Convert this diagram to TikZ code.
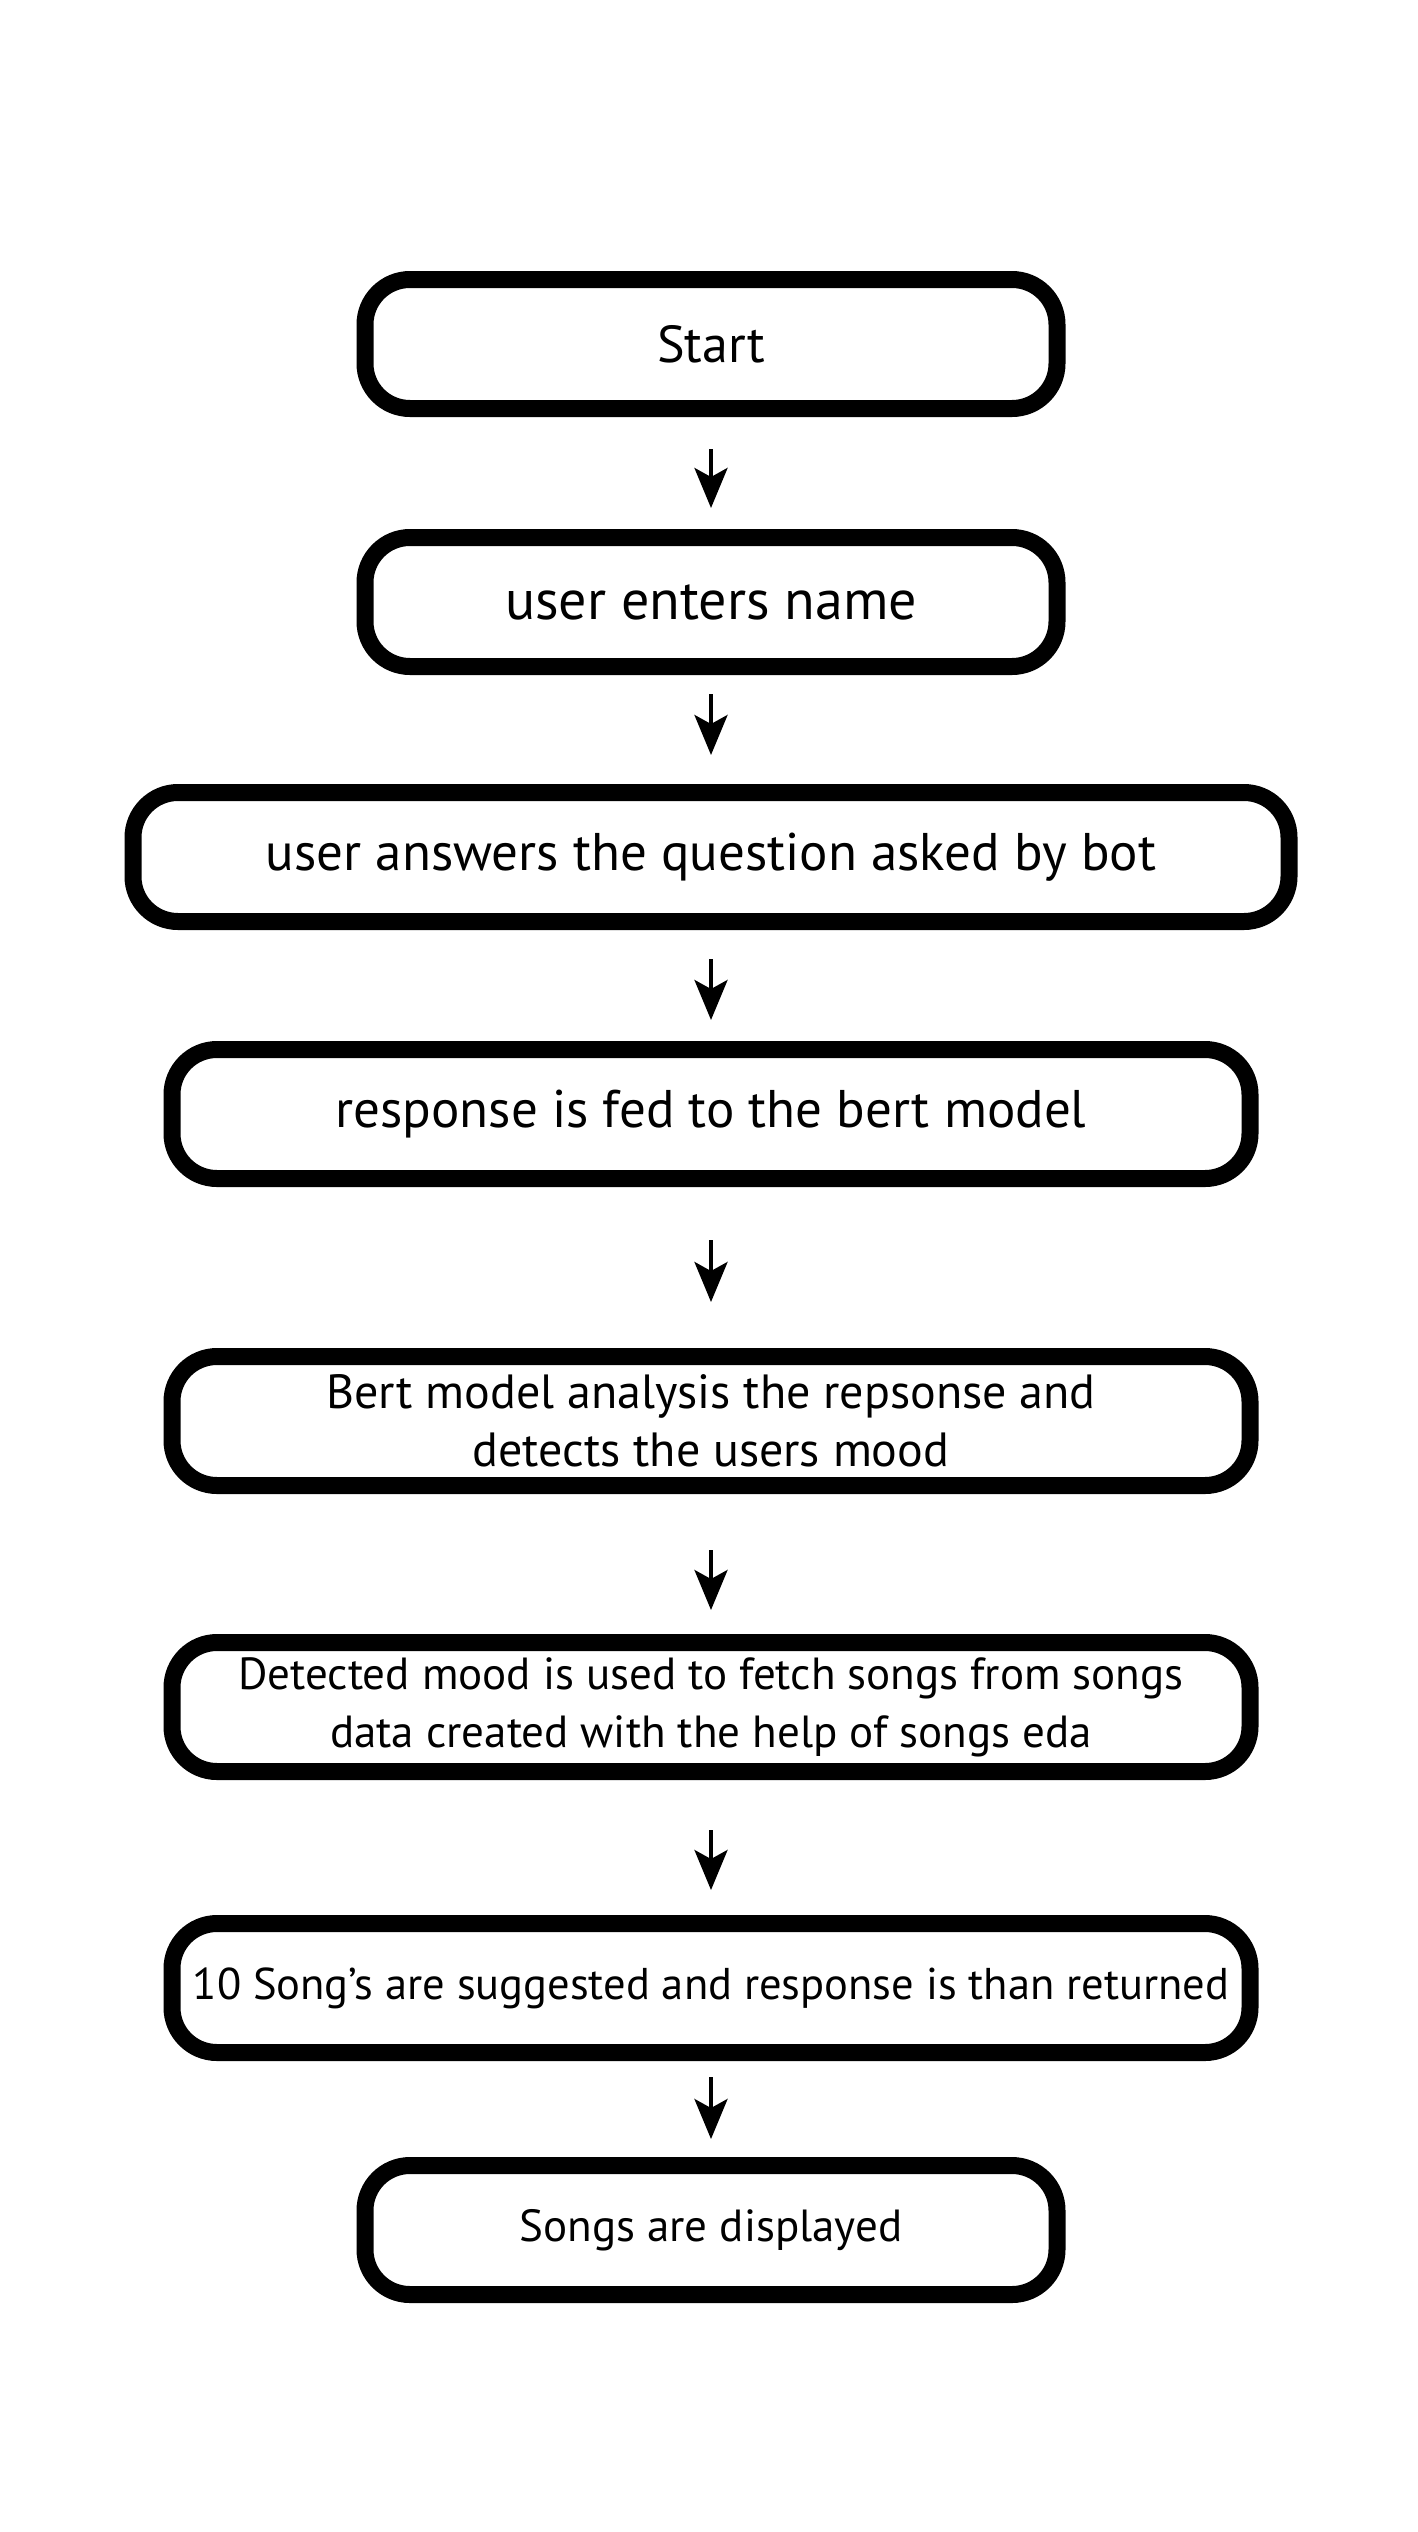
\documentclass[tikz,border=0pt]{standalone}
\usepackage{fontspec}
\setmainfont{PT Sans}
\usepackage{tikz}
\usetikzlibrary{arrows.meta}

\begin{document}
\begin{tikzpicture}[
            x = 1pt, y = -1pt,
            > = {Stealth[length=40pt, width=33pt, inset=9pt]}, % arrow head style
            box/.style = {shape=rectangle, rounded corners=45pt, draw=black,
                          line width=17pt, minimum height=129pt, align=center},
            narrow/.style = {box, minimum width=692pt},
            wide/.style = {box, minimum width=1156pt},
            mid/.style = {box, minimum width=1078pt},
            line width = 4pt % line style
        ]
\useasboundingbox (0,0) rectangle (1418,2532);

\node[narrow, font=\fontsize{52}{60}\selectfont] (S) at (711,344) {Start};
\node[narrow, font=\fontsize{56}{64}\selectfont] (N) at (711,602) {user enters name};
\node[wide, font=\fontsize{53}{62}\selectfont] (Q) at (711,857) {user answers the question asked by bot};
\node[mid, font=\fontsize{53}{62}\selectfont] (F) at (711,1114) {response is fed to the bert model};
\node[mid, font=\fontsize{48}{58}\selectfont] (B) at (711,1421) {Bert model analysis the repsonse and\\detects the users mood};
\node[mid, font=\fontsize{45}{58}\selectfont] (D) at (711,1707) {Detected mood is used to fetch songs from songs\\data created with the help of songs eda};
\node[mid, font=\fontsize{44.5}{52}\selectfont] (R) at (711,1988) {10 Song’s are suggested and response is than returned};
\node[narrow, font=\fontsize{45}{52}\selectfont] (E) at (711,2230) {Songs are displayed};

\path [->] (S) edge[shorten <=32pt, shorten >=21pt] (N)
           (N) edge[shorten <=19pt, shorten >=29pt] (Q)
           (Q) edge[shorten <=29pt, shorten >=21pt] (F)
           (F) edge[shorten <=53pt, shorten >=46pt] (B)
           (B) edge[shorten <=56pt, shorten >=24pt] (D)
           (D) edge[shorten <=50pt, shorten >=25pt] (R)
           (R) edge[shorten <=16pt, shorten >=18pt] (E);
\end{tikzpicture}
\end{document}
